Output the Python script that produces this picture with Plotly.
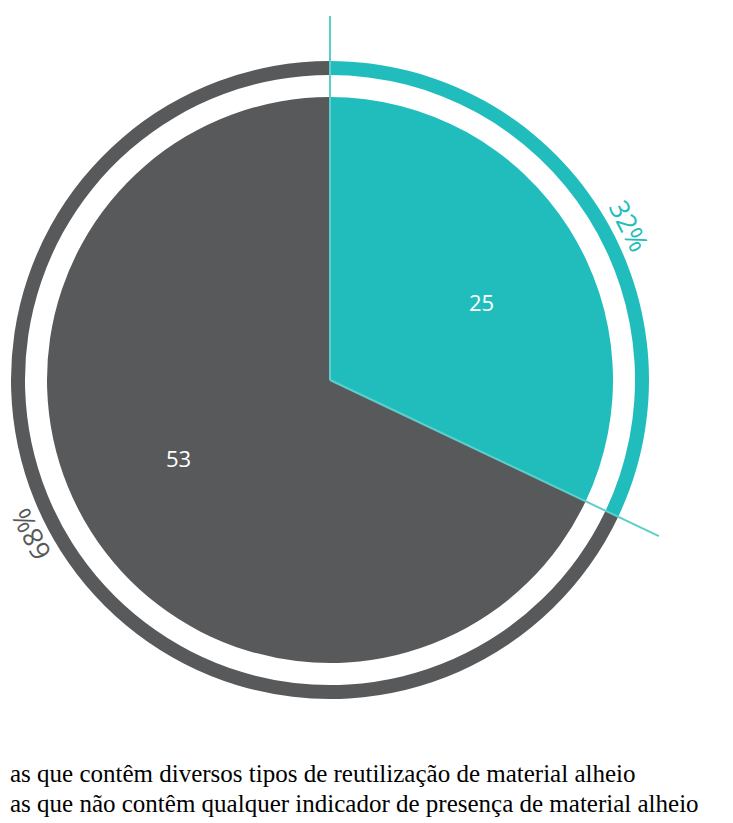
import math
import plotly.graph_objects as go

# ---- data ----
categories = [
    "as que contêm diversos tipos de reutilização de material alheio",
    "as que não contêm qualquer indicador de presença de material alheio",
]
values = [25, 53]
colors = ["#21BDBD", "#58595B"]

# ---- geometry (screen pixels; page body adds an 8px offset) ----
OFF = 8
W, H = 733 - OFF, 823 - OFF
CX, CY = 330, 380
R_OUT = 319
R_RING_IN = 305
R_PIE = 283
R_LINE = 364
R_PCT = 337
R_VAL = 170
ANG_OFF = 5.0


def px2paper(x, y):
    return (x - OFF) / W, 1 - (y - OFF) / H


def dom(r):
    x0, y0 = px2paper(CX - r, CY + r)
    x1, y1 = px2paper(CX + r, CY - r)
    return dict(x=[x0, x1], y=[y0, y1])


def polar(r, deg):
    a = math.radians(deg)
    return CX + r * math.sin(a), CY - r * math.cos(a)


total = sum(values)
starts, mids = [], []
acc = 0
for v in values:
    starts.append(acc / total * 360)
    mids.append((acc + v / 2) / total * 360)
    acc += v

fig = go.Figure()
# outer ring
fig.add_trace(go.Pie(
    labels=categories, values=values, sort=False, direction="clockwise", rotation=0,
    hole=R_RING_IN / R_OUT, domain=dom(R_OUT), textinfo="none", hoverinfo="none",
    marker=dict(colors=colors, line=dict(width=0)), showlegend=False,
))
# inner pie
fig.add_trace(go.Pie(
    labels=categories, values=values, sort=False, direction="clockwise", rotation=0,
    domain=dom(R_PIE), textinfo="none", hoverinfo="label+value",
    marker=dict(colors=colors, line=dict(width=0)), showlegend=False,
))

shapes = []
for s in starts:
    x1, y1 = polar(R_LINE, s)
    p0 = px2paper(CX, CY)
    p1 = px2paper(x1, y1)
    shapes.append(dict(type="line", xref="paper", yref="paper", x0=p0[0], y0=p0[1],
                       x1=p1[0], y1=p1[1], line=dict(color="#5DCFCB", width=2), layer="above"))

annotations = []
for v, m, c in zip(values, mids, colors):
    ang = m + ANG_OFF
    x, y = polar(R_PCT, ang)
    px, py = px2paper(x, y)
    annotations.append(dict(x=px, y=py, xref="paper", yref="paper", showarrow=False,
                            xanchor="center", yanchor="middle",
                            text=f"{round(v / total * 100)}%", textangle=ang,
                            font=dict(family="Open Sans", size=27, color=c)))
    x, y = polar(R_VAL, ang)
    px, py = px2paper(x, y)
    annotations.append(dict(x=px, y=py, xref="paper", yref="paper", showarrow=False,
                            xanchor="center", yanchor="middle",
                            text=str(v), font=dict(family="Open Sans", size=22, color="white")))

for i, cat in enumerate(categories):
    px, py = px2paper(OFF, 773 + 30 * i)
    annotations.append(dict(x=px, y=py, xref="paper", yref="paper",
                            xanchor="left", yanchor="middle", showarrow=False, text=cat,
                            font=dict(family="Liberation Serif", size=25, color="#000000")))

fig.update_layout(
    width=W, height=H, margin=dict(l=0, r=0, t=0, b=0),
    paper_bgcolor="white", plot_bgcolor="white",
    shapes=shapes, annotations=annotations, showlegend=False,
)
fig.write_html("out.html")
